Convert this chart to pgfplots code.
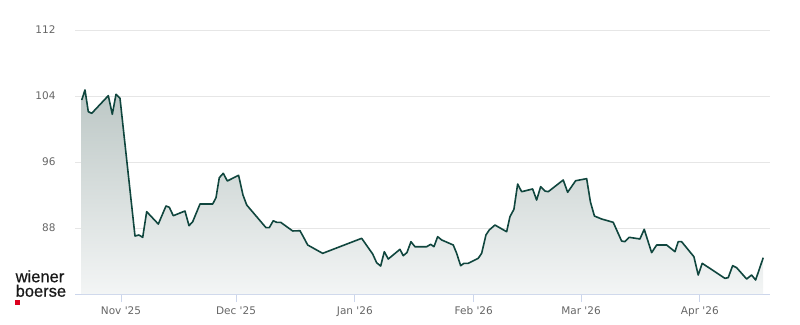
\documentclass[border=0pt]{standalone}
\usepackage{pgfplots}
\usepackage{pgfplotstable}
\usepackage{fontspec}
\setmainfont{DejaVu Sans}[Ligatures=TeXOff]
\newfontfamily\logofont{Liberation Sans}[FakeBold=0.6]
\pgfplotsset{compat=1.18}
\definecolor{linec}{RGB}{16,70,62}
\definecolor{filltop}{RGB}{188,199,197}
\definecolor{fillbot}{RGB}{243,245,245}
\definecolor{axisc}{RGB}{204,214,235}
\definecolor{gridc}{RGB}{230,230,230}
\definecolor{tickc}{RGB}{102,102,102}
\definecolor{logored}{RGB}{220,0,30}
\pgfplotstableread{
day value
-10.25 103.52
-9.39 104.73
-8.53 102.10
-7.64 101.90
-3.31 104.04
-2.27 101.78
-1.30 104.21
-0.26 103.72
3.65 87.03
4.69 87.15
5.66 86.87
6.70 89.98
9.73 88.48
11.74 90.67
12.60 90.51
13.64 89.49
16.69 90.06
17.74 88.28
18.70 88.76
20.61 90.91
23.92 90.91
24.78 91.67
25.64 94.10
26.68 94.63
27.73 93.70
30.67 94.39
31.82 92.00
32.79 90.79
37.82 88.04
38.68 88.04
39.72 88.88
40.61 88.69
41.65 88.69
44.78 87.64
46.69 87.67
47.55 86.95
48.70 85.94
52.61 84.93
62.78 86.75
65.65 84.85
66.69 83.79
67.74 83.39
68.68 85.13
69.72 84.24
72.77 85.42
73.63 84.64
74.60 85.03
75.64 86.34
76.68 85.73
79.73 85.73
80.78 86.02
81.64 85.73
82.60 86.95
83.65 86.55
86.67 85.94
87.56 84.93
88.60 83.43
89.46 83.72
90.58 83.72
93.19 84.33
94.08 84.93
95.20 87.15
96.06 87.76
97.55 88.36
100.60 87.55
101.46 89.37
102.50 90.27
103.47 93.33
104.51 92.40
107.38 92.73
108.42 91.39
109.47 93.01
110.59 92.48
111.45 92.40
115.36 93.82
116.51 92.33
118.60 93.73
121.47 93.98
122.46 91.15
123.50 89.45
125.38 89.09
128.40 88.69
130.59 86.42
131.45 86.34
132.58 86.87
135.37 86.67
136.49 87.84
138.42 85.01
139.73 85.94
142.33 85.94
144.50 85.13
145.36 86.34
146.24 86.34
149.45 84.52
150.57 82.30
151.62 83.72
157.54 81.90
158.40 81.98
159.55 83.43
160.59 83.19
163.20 81.82
164.50 82.30
165.55 81.70
167.53 84.40
}\pricedata
\begin{document}
\begin{tikzpicture}[x=1pt,y=1pt]
\useasboundingbox (0,0) rectangle (800,324);
\begin{axis}[
  at={(75pt,30pt)}, anchor=south west,
  scale only axis, width=695pt, height=288.75pt,
  xmin=-12, xmax=169.3, ymin=80, ymax=115,
  axis x line*=bottom, axis y line*=left,
  y axis line style={draw=none},
  x axis line style={draw=axisc, line width=0.8pt},
  xtick={0,30,61,92,120,151},
  xticklabels={Nov '25,Dec '25,Jan '26,Feb '26,Mar '26,Apr '26},
  ytick={88,96,104,112},
  ymajorgrids, grid style={draw=gridc, line width=0.7pt},
  ytick style={draw=none},
  xtick style={draw=axisc, line width=0.8pt},
  tick align=outside, major tick length=8pt,
  tick label style={font=\fontsize{10.5}{12}\selectfont, text=tickc},
  xticklabel style={yshift=-1pt},
  yticklabel style={xshift=-8pt},
  /pgf/number format/assume math mode=true,
  clip=true,
]
\addplot[draw=none, top color=filltop, bottom color=fillbot] table[x=day,y=value] {\pricedata} \closedcycle;
\addplot[linec, line width=1.6pt, line join=round, mark=none] table[x=day,y=value] {\pricedata};
\end{axis}
\node[anchor=base west, inner sep=0pt, align=left, font=\logofont\fontsize{16.5}{14.5}\selectfont, text={rgb,255:red,25;green,25;blue,25}] at (15.5,27.3) {wiener\\boerse};
\fill[logored] (15,19) rectangle (19.5,24);
\end{tikzpicture}
\end{document}
